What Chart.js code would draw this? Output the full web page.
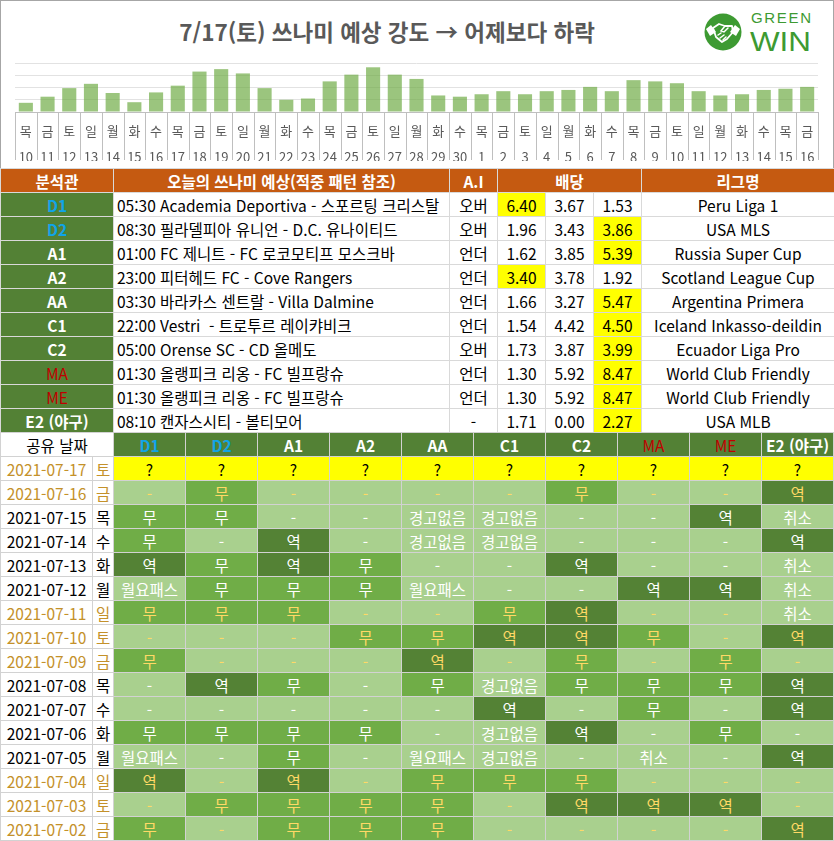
<!DOCTYPE html>
<html lang="ko">
<head>
<meta charset="utf-8">
<script src="https://cdn.jsdelivr.net/npm/chart.js@4.4.1/dist/chart.umd.min.js"></script>
<style>
body { margin:0; width:834px; height:841px; background:#fff; position:relative; overflow:hidden;
  font-family:"Noto Sans CJK KR", "Noto Sans", sans-serif; }
#top { position:absolute; left:0; top:0; width:834px; height:169px; border:1px solid #a6a6a6; box-sizing:border-box; }
#title { position:absolute; left:0; top:17px; width:772px; height:26px; line-height:26px; text-align:center;
  font-size:22.5px; font-weight:bold; color:#595959; }
#logo { position:absolute; left:699px; top:3px; }
#chartBox { position:absolute; left:0; top:54px; }
table { position:absolute; left:0; width:834px; border-collapse:collapse; table-layout:fixed; }
tr { height:24px; }
td { border:1px solid #d9d9d9; padding:0; line-height:20px; font-size:15.5px; text-align:center;
  white-space:nowrap; overflow:hidden; color:#000; }
#odds { top:168px; }
#odds tr.head td { background:#c55a11; color:#fff; font-weight:bold; }
#odds td.match { text-align:left; padding-left:3px; }
td.who { background:#538135; color:#fff; font-weight:bold; }
td.who.blue { color:#10a4e8; }
td.who.red { color:#c00000; font-weight:normal; }
td.hl { background:#ffff00; }
#share { top:432px; }
#share td { border-color:#d2d2d2; }
</style>
</head>
<body>
<div id="top">
  <div id="title">7/17(토) 쓰나미 예상 강도 → 어제보다 하락</div>
  <svg id="logo" width="120" height="56">
    <circle cx="23" cy="28" r="18.5" fill="#3d9a32"/>
    <path d="M6 25 L11 21 L16 28 L10 32 Z" fill="#fff"/>
    <path d="M40 25 L35 21 L30 28 L36 32 Z" fill="#fff"/>
    <path d="M13 24 L19 20 L25 22 L32 22 L33 28 L27 35 L22 38 L16 33 Z" fill="none" stroke="#fff" stroke-width="1.8" stroke-linejoin="round"/>
    <path d="M25 22 L21 27 L24 28 L28 24 M18 31 L21 29 M20 34 L24 31 M23 36 L26 33" fill="none" stroke="#fff" stroke-width="1.5" stroke-linecap="round"/>
    <text x="51" y="19" font-size="15" fill="#3d9a32" font-family="Liberation Sans" textLength="60" lengthAdjust="spacing">GREEN</text>
    <text x="50" y="47" font-size="27" fill="#3d9a32" font-family="Liberation Sans" textLength="61" lengthAdjust="spacingAndGlyphs">WIN</text>
  </svg>
  <div id="chartBox"><canvas id="intensity" width="832" height="112"></canvas></div>
</div>
<table id="odds"></table>
<table id="share"></table>
<script>
// tsunami intensity per day (10 Jun .. 16 Jul)
const weekdays = ['목','금','토','일','월','화','수','목','금','토','일','월','화','수','목','금','토','일','월',
  '화','수','목','금','토','일','월','화','수','목','금','토','일','월','화','수','목','금'];
const dayNums = ['10','11','12','13','14','15','16','17','18','19','20','21','22','23','24','25','26','27','28',
  '29','30','1','2','3','4','5','6','7','8','9','10','11','12','13','14','15','16'];
const intensity = [0.75,1.25,1.95,2.3,1.55,0.8,1.6,2.15,3.3,3.5,3.15,1.95,1.0,1.1,2.5,3.05,3.65,3.05,2.7,
  1.35,1.25,1.45,1.7,1.45,1.7,1.8,2.05,1.7,2.6,2.5,2.35,1.7,1.35,1.45,1.8,1.9,2.05];

// today's picks
const analysts = ['D1','D2','A1','A2','AA','C1','C2','MA','ME','E2 (야구)'];
const matches = [
  '05:30 Academia Deportiva - 스포르팅 크리스탈',
  '08:30 필라델피아 유니언 - D.C. 유나이티드',
  '01:00 FC 제니트 - FC 로코모티프 모스크바',
  '23:00 피터헤드 FC - Cove Rangers',
  '03:30 바라카스 센트랄 - Villa Dalmine',
  '22:00 Vestri  - 트로투르 레이캬비크',
  '05:00 Orense SC - CD 올메도',
  '01:30 올랭피크 리옹 - FC 빌프랑슈',
  '01:30 올랭피크 리옹 - FC 빌프랑슈',
  '08:10 캔자스시티 - 볼티모어'];
const aiPicks = ['오버','오버','언더','언더','언더','언더','오버','언더','언더','-'];
const oddsHome = [6.40,1.96,1.62,3.40,1.66,1.54,1.73,1.30,1.30,1.71];
const oddsDraw = [3.67,3.43,3.85,3.78,3.27,4.42,3.87,5.92,5.92,0.00];
const oddsAway = [1.53,3.86,5.39,1.92,5.47,4.50,3.99,8.47,8.47,2.27];
const pickedOdds = [0,2,2,0,2,2,2,2,2,2];   // 0 home, 1 draw, 2 away
const leagues = ['Peru Liga 1','USA MLS','Russia Super Cup','Scotland League Cup','Argentina Primera',
  'Iceland Inkasso-deildin','Ecuador Liga Pro','World Club Friendly','World Club Friendly','USA MLB'];

// shared results history
const shareDates = ['2021-07-17','2021-07-16','2021-07-15','2021-07-14','2021-07-13','2021-07-12','2021-07-11',
  '2021-07-10','2021-07-09','2021-07-08','2021-07-07','2021-07-06','2021-07-05','2021-07-04','2021-07-03','2021-07-02'];
const shareDays = ['토','금','목','수','화','월','일','토','금','목','수','화','월','일','토','금'];
const results = [
  ['?','?','?','?','?','?','?','?','?','?'],
  ['-','무','-','-','-','-','무','-','-','역'],
  ['무','무','-','-','경고없음','경고없음','-','-','역','취소'],
  ['무','-','역','-','경고없음','경고없음','-','-','-','역'],
  ['역','무','역','무','-','-','역','-','-','취소'],
  ['월요패스','무','무','무','월요패스','-','-','역','역','취소'],
  ['무','무','무','-','-','무','역','-','-','취소'],
  ['-','-','-','무','무','역','역','무','-','역'],
  ['무','-','-','-','역','-','무','-','무','-'],
  ['-','역','무','-','무','경고없음','무','무','무','역'],
  ['-','-','-','-','-','역','-','무','-','역'],
  ['무','무','무','무','-','경고없음','역','-','무','-'],
  ['월요패스','-','무','-','월요패스','경고없음','-','취소','-','역'],
  ['역','-','역','-','무','무','무','-','-','-'],
  ['-','무','무','무','무','-','역','역','역','-'],
  ['무','-','무','무','무','-','-','-','-','역']];

function whoClass(name) {
  if (name[0] === 'D') return 'who blue';
  if (name[0] === 'M') return 'who red';
  return 'who';
}

// odds table
let html = '<colgroup><col style="width:113px"><col style="width:336px"><col style="width:48px">' +
  '<col style="width:48px"><col style="width:48px"><col style="width:48px"><col style="width:193px"></colgroup>';
html += '<tr class="head"><td>분석관</td><td>오늘의 쓰나미 예상(적중 패턴 참조)</td><td>A.I</td>' +
  '<td colspan="3">배당</td><td>리그명</td></tr>';
analysts.forEach((a, i) => {
  const odds = [oddsHome[i], oddsDraw[i], oddsAway[i]];
  html += '<tr><td class="' + whoClass(a) + '">' + a + '</td><td class="match">' + matches[i].replace(/  /g, ' &nbsp;') +
    '</td><td>' + aiPicks[i] + '</td>';
  odds.forEach((o, k) => { html += '<td' + (k === pickedOdds[i] ? ' class="hl"' : '') + '>' + o.toFixed(2) + '</td>'; });
  html += '<td>' + leagues[i] + '</td></tr>';
});
document.getElementById('odds').innerHTML = html;

// share table
const cellBg = { '?': '#ffff00', '무': '#70ad47', '역': '#548235' };
html = '<colgroup><col style="width:92px"><col style="width:21px">' +
  analysts.map(() => '<col style="width:72px">').join('') + '</colgroup>';
html += '<tr><td colspan="2">공유 날짜</td>' + analysts.map(a => '<td class="' + whoClass(a) + '">' + a + '</td>').join('') + '</tr>';
shareDates.forEach((d, r) => {
  const gold = ['토','일','금'].includes(shareDays[r]);
  const dc = gold ? '#c4912a' : '#000';
  html += '<tr><td style="color:' + dc + '">' + d + '</td><td style="color:' + dc + '">' + shareDays[r] + '</td>';
  results[r].forEach(v => {
    const bg = cellBg[v] || '#a9d08e';
    let fg = '#fff';
    if (v === '?') fg = '#000';
    else if (gold && v !== '취소') fg = '#ffd966';
    html += '<td style="background:' + bg + ';color:' + fg + '">' + v + '</td>';
  });
  html += '</tr>';
});
document.getElementById('share').innerHTML = html;

// category separators under the axis, at the edges of each category
const separators = {
  id: 'separators',
  afterDraw(chart) {
    const x = chart.scales.x;
    const c = chart.ctx;
    c.save();
    c.strokeStyle = '#bfbfbf';
    c.lineWidth = 1;
    for (let i = 0; i <= x.ticks.length; i++) {
      const px = Math.round(x.getPixelForValue(i - 0.5)) + 0.5;
      c.beginPath();
      c.moveTo(px, x.top);
      c.lineTo(px, x.bottom - 1);
      c.stroke();
    }
    c.restore();
  }
};

// intensity chart
const ctx = document.getElementById('intensity');
new Chart(ctx, {
  type: 'bar',
  data: {
    labels: weekdays.map((w, i) => [w, dayNums[i]]),
    datasets: [{
      data: intensity,
      backgroundColor: 'rgba(112,173,71,0.7)',
      barPercentage: 0.65,
      categoryPercentage: 1
    }]
  },
  options: {
    responsive: false,
    animation: false,
    devicePixelRatio: 1,
    layout: { padding: { left: 14, right: 15, top: 8, bottom: 6 } },
    plugins: { legend: { display: false }, tooltip: { enabled: false } },
    scales: {
      x: {
        grid: { offset: true, drawOnChartArea: false, drawTicks: false },
        border: { color: '#bfbfbf' },
        ticks: {
          autoSkip: false, maxRotation: 0, padding: 6, color: '#595959',
          font: { family: 'Noto Sans CJK KR', size: 13, lineHeight: 2 }
        }
      },
      y: {
        min: 0, max: 4,
        ticks: { display: false, stepSize: 1 },
        grid: { color: '#e2e2e2', drawTicks: false },
        border: { display: false }
      }
    }
  },
  plugins: [separators]
});
</script>
</body>
</html>
